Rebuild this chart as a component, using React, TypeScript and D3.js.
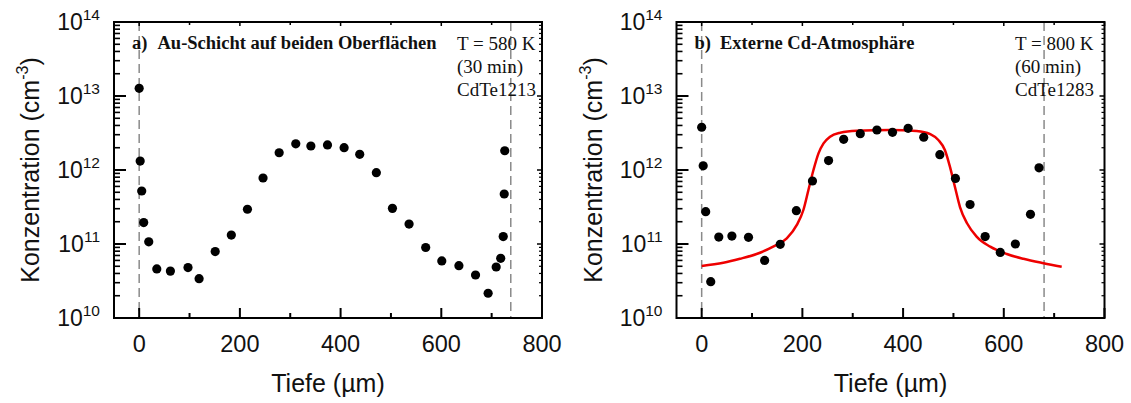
import React from 'react';
import * as d3 from 'd3';

// ---------- data ----------
const xMajorTicks = [0, 200, 400, 600, 800];
const xMinorTicks = [100, 300, 500, 700];
const yDecadeExps = [10, 11, 12, 13, 14];

// Panel a) Au-Schicht auf beiden Oberflächen
const depthA = [0, 2, 5, 9, 19, 35, 62, 97, 119, 151, 183, 215, 246, 278, 311, 341, 374, 407, 438, 471, 503, 536, 569, 601, 635, 668, 693, 709, 718, 723, 725, 726];
const concA = [1.27e13, 1.32e12, 5.2e11, 1.95e11, 1.07e11, 4.6e10, 4.3e10, 4.8e10, 3.4e10, 7.9e10, 1.32e11, 2.95e11, 7.8e11, 1.71e12, 2.26e12, 2.11e12, 2.18e12, 2.0e12, 1.63e12, 9.2e11, 3.03e11, 1.86e11, 8.97e10, 5.9e10, 5.1e10, 3.81e10, 2.16e10, 4.89e10, 6.4e10, 1.26e11, 4.74e11, 1.82e12];
const surfacesA = [0, 738];

// Panel b) Externe Cd-Atmosphäre
const depthB = [0, 3, 8, 18, 34, 60, 93, 125, 156, 188, 220, 252, 282, 315, 348, 379, 410, 441, 473, 504, 533, 563, 593, 623, 653, 670];
const concB = [3.78e12, 1.14e12, 2.73e11, 3.1e10, 1.24e11, 1.28e11, 1.23e11, 6.0e10, 9.9e10, 2.82e11, 7.1e11, 1.34e12, 2.6e12, 3.1e12, 3.47e12, 3.23e12, 3.66e12, 2.77e12, 1.61e12, 7.7e11, 3.42e11, 1.26e11, 7.7e10, 1.0e11, 2.52e11, 1.07e12];
const fitDepthB = [0, 43, 76, 109, 142, 169, 189, 202, 212, 222, 232, 242, 255, 275, 308, 374, 427, 454, 470, 483, 493, 503, 513, 527, 546, 573, 606, 639, 679, 715];
const fitConcB = [5.05e10, 5.58e10, 6.31e10, 7.33e10, 9.2e10, 1.19e11, 1.81e11, 2.88e11, 5.37e11, 1.0e12, 1.68e12, 2.29e12, 2.82e12, 3.19e12, 3.4e12, 3.48e12, 3.37e12, 3.06e12, 2.54e12, 1.86e12, 1.11e12, 5.89e11, 3.16e11, 1.91e11, 1.26e11, 9.2e10, 7.33e10, 6.31e10, 5.5e10, 4.93e10];
const surfacesB = [0, 680];

const panelLabels = ['a)', 'b)'];
const panelTitles = ['Au-Schicht auf beiden Oberflächen', 'Externe Cd-Atmosphäre'];
const infoA = ['T = 580 K', '(30 min)', 'CdTe1213'];
const infoB = ['T = 800 K', '(60 min)', 'CdTe1283'];

const xTitle = 'Tiefe (µm)';
const yTitle = 'Konzentration (cm';

// ---------- layout ----------
const W = 1131;
const H = 403;
const TOP = 22;
const BOTTOM = 318;
const PANEL_W = 428;
const SANS = 'Liberation Sans, Arial, Helvetica, sans-serif';
const SERIF = 'Liberation Serif, Times New Roman, serif';

type PanelProps = {
  left: number;
  depth: number[];
  conc: number[];
  surfaces: number[];
  label: string;
  title: string;
  info: string[];
  infoX: number;
  fitDepth?: number[];
  fitConc?: number[];
};

function Panel({ left, depth, conc, surfaces, label, title, info, infoX, fitDepth, fitConc }: PanelProps) {
  const right = left + PANEL_W;
  const x = d3.scaleLinear().domain([-50, 800]).range([left, right]);
  const y = d3.scaleLog().domain([1e10, 1e14]).range([BOTTOM, TOP]);

  const minorY: number[] = [];
  for (let e = 10; e < 14; e++) for (let m = 2; m <= 9; m++) minorY.push(m * Math.pow(10, e));

  const fitPath =
    fitDepth && fitConc
      ? d3
          .line<number>()
          .x((_, i) => x(fitDepth[i]))
          .y((c) => y(c))
          .curve(d3.curveMonotoneX)(fitConc)
      : null;

  return (
    <g>
      {/* surface dashed lines */}
      {surfaces.map((s, i) => (
        <line key={'s' + i} x1={x(s)} x2={x(s)} y1={TOP} y2={BOTTOM} stroke="#8a8a8a" strokeWidth={1.5} strokeDasharray="9,5" />
      ))}

      {/* panel title */}
      <text x={left + 18} y={49} fontFamily={SERIF} fontWeight="bold" fontSize={18.5} fill="#111">{label}</text>
      <text x={left + 43.5} y={49} fontFamily={SERIF} fontWeight="bold" fontSize={18.5} fill="#111">{title}</text>
      {info.map((t, i) => (
        <text key={'i' + i} x={infoX} y={50 + i * 23} fontFamily={SERIF} fontSize={19} fill="#111">{t}</text>
      ))}

      {/* fit */}
      {fitPath && <path d={fitPath} fill="none" stroke="#ee0000" strokeWidth={2.5} />}

      {/* points */}
      {depth.map((d, i) => (
        <circle key={'p' + i} cx={x(d)} cy={y(conc[i])} r={4.6} fill="#000" />
      ))}

      {/* frame */}
      <rect x={left} y={TOP} width={PANEL_W} height={BOTTOM - TOP} fill="none" stroke="#000" strokeWidth={2} />

      {/* x ticks */}
      {xMajorTicks.map((t) => (
        <g key={'xm' + t}>
          <line x1={x(t)} x2={x(t)} y1={BOTTOM} y2={BOTTOM - 10} stroke="#000" strokeWidth={2} />
          <line x1={x(t)} x2={x(t)} y1={TOP} y2={TOP + 4} stroke="#000" strokeWidth={1.5} />
          <text x={x(t)} y={352} textAnchor="middle" fontFamily={SANS} fontSize={23.5} fill="#111">{t}</text>
        </g>
      ))}
      {xMinorTicks.map((t) => (
        <g key={'xn' + t}>
          <line x1={x(t)} x2={x(t)} y1={BOTTOM} y2={BOTTOM - 5} stroke="#000" strokeWidth={2} />
          <line x1={x(t)} x2={x(t)} y1={TOP} y2={TOP + 3} stroke="#000" strokeWidth={1.5} />
        </g>
      ))}

      {/* y ticks */}
      {yDecadeExps.map((e) => {
        const v = Math.pow(10, e);
        return (
          <g key={'ym' + e}>
            <line x1={left} x2={left + 12} y1={y(v)} y2={y(v)} stroke="#000" strokeWidth={2} />
            <line x1={right} x2={right - 5} y1={y(v)} y2={y(v)} stroke="#000" strokeWidth={1.5} />
            <text x={left - 14} y={y(v) + 8} textAnchor="end" fontFamily={SANS} fontSize={23} fill="#111">
              10
              <tspan fontSize={15.5} dy={-10}>{e}</tspan>
            </text>
          </g>
        );
      })}
      {minorY.map((v, i) => (
        <g key={'yn' + i}>
          <line x1={left} x2={left + 6} y1={y(v)} y2={y(v)} stroke="#000" strokeWidth={1.6} />
          <line x1={right} x2={right - 3} y1={y(v)} y2={y(v)} stroke="#000" strokeWidth={1.2} />
        </g>
      ))}

      {/* axis titles */}
      <text x={left + 214} y={392} textAnchor="middle" fontFamily={SANS} fontSize={25} fill="#111">{xTitle}</text>
      <text
        transform={`translate(${left - 75},${(TOP + BOTTOM) / 2}) rotate(-90)`}
        textAnchor="middle"
        fontFamily={SANS}
        fontSize={25}
        fill="#111"
      >
        {yTitle}
        <tspan fontSize={16} dy={-11}>-3</tspan>
        <tspan dy={11}>)</tspan>
      </text>
    </g>
  );
}

export default function App() {
  return (
    <svg width={W} height={H} style={{ position: 'absolute', left: 0, top: 0, background: '#fff' }}>
      <rect x={0} y={0} width={W} height={H} fill="#fff" />
      <Panel
        left={114}
        depth={depthA}
        conc={concA}
        surfaces={surfacesA}
        label={panelLabels[0]}
        title={panelTitles[0]}
        info={infoA}
        infoX={457}
      />
      <Panel
        left={676.5}
        depth={depthB}
        conc={concB}
        surfaces={surfacesB}
        label={panelLabels[1]}
        title={panelTitles[1]}
        info={infoB}
        infoX={1015}
        fitDepth={fitDepthB}
        fitConc={fitConcB}
      />
    </svg>
  );
}
